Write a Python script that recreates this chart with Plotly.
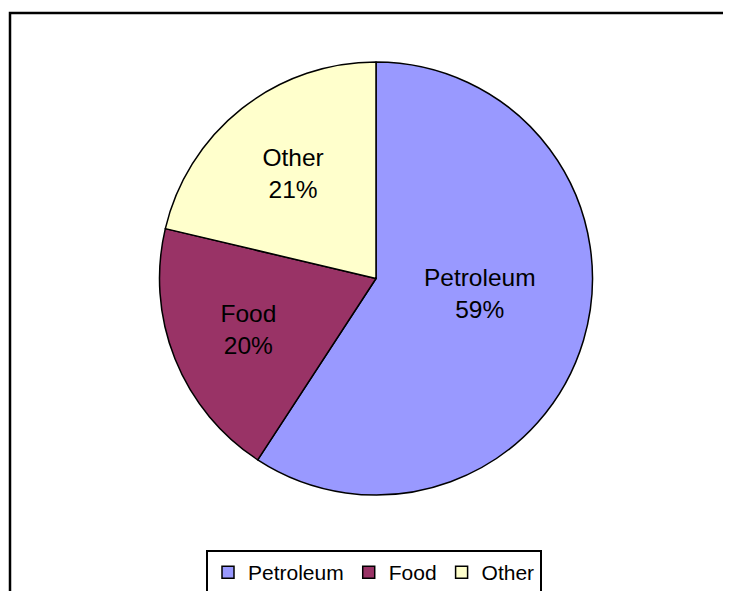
import plotly.graph_objects as go

labels = ["Petroleum", "Food", "Other"]
values = [59.2, 19.5, 21.3]
colors = ["#9999FF", "#993366", "#FFFFCC"]

W, H = 731, 591
OFF = 8  # page body margin offset
cx, cy, r = 376 - OFF, 278.5 - OFF, 216.5

fig = go.Figure(go.Pie(
    labels=labels,
    values=values,
    sort=False,
    direction="clockwise",
    rotation=0,
    marker=dict(colors=colors, line=dict(color="black", width=1.5)),
    textinfo="label+percent",
    texttemplate=["%{label}<br>%{percent:.0%}<br> ",
                  "%{label}<br>%{percent:.0%}",
                  "%{label}<br>%{percent:.0%}"],
    textposition="inside",
    insidetextorientation="horizontal",
    textfont=dict(family="Liberation Sans, Arial, sans-serif", size=24.5, color="black"),
    domain=dict(x=[(cx - r) / W, (cx + r) / W], y=[(H - cy - r) / H, (H - cy + r) / H]),
    hoverinfo="label+percent",
))

fig.update_layout(
    width=W, height=H,
    margin=dict(l=0, r=0, t=0, b=0),
    paper_bgcolor="white",
    plot_bgcolor="white",
    font=dict(family="Liberation Sans, Arial, sans-serif", color="black"),
    showlegend=True,
    legend=dict(
        orientation="h",
        x=(374 - OFF) / W, xanchor="center",
        y=(H - (550 - OFF)) / H, yanchor="top",
        bordercolor="black", borderwidth=2,
        font=dict(size=21, color="black"),
        itemwidth=30,
        traceorder="normal",
    ),
    shapes=[dict(
        type="rect", xref="paper", yref="paper",
        x0=(10 - OFF) / W, x1=1.2, y0=-0.2, y1=(H - (13 - OFF)) / H,
        line=dict(color="black", width=2.5), fillcolor="rgba(0,0,0,0)",
    )],
)

fig.write_html("out.html")
